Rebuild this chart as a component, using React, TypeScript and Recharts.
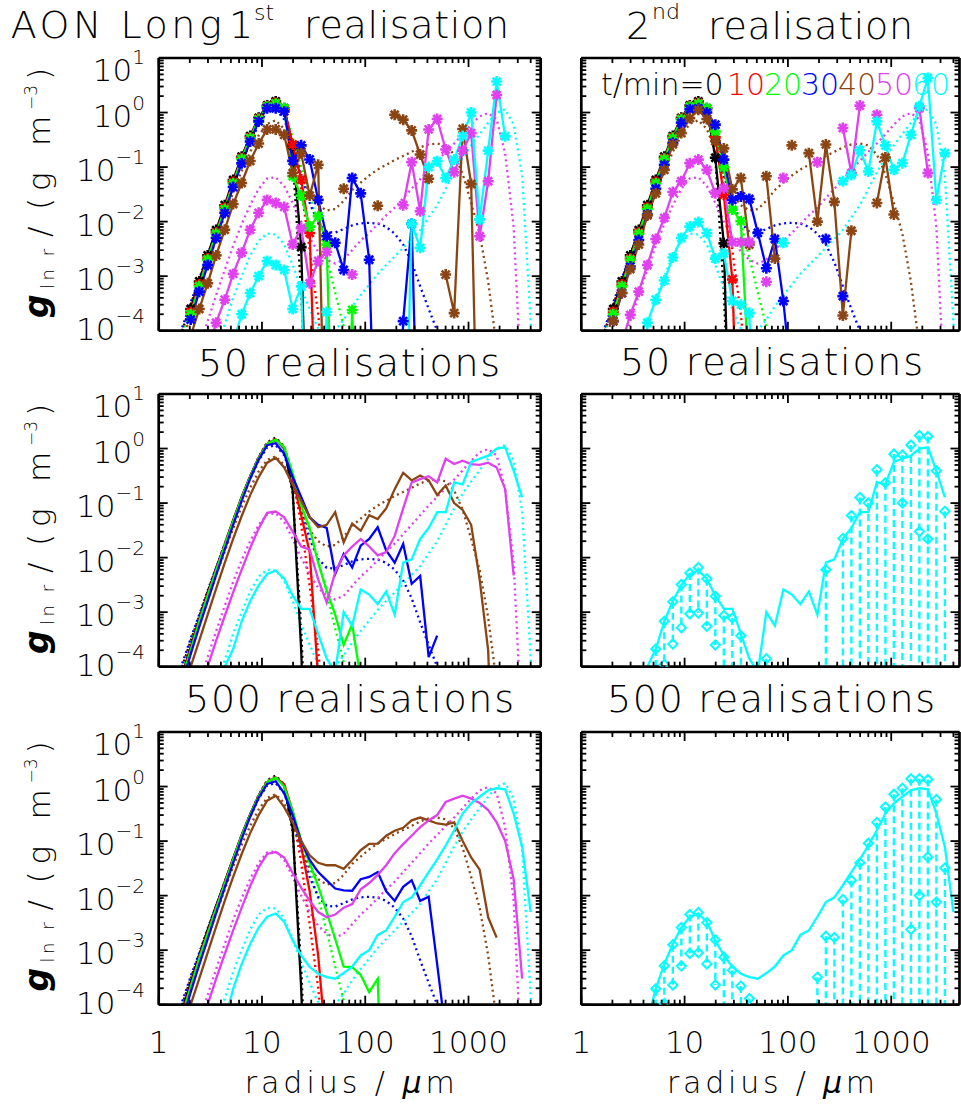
import React from 'react';
import { LineChart, Line, XAxis, YAxis, ReferenceLine } from 'recharts';

// ---------- radius grid (µm), bins n = -5 … 37 ----------
const RADIUS = [1.69, 2.04, 2.47, 2.98, 3.60, 4.36, 5.26, 6.36, 7.69, 9.29, 11.23, 13.58, 16.41, 19.83, 23.97, 28.97, 35.02, 42.33, 51.17, 61.84, 74.74, 90.33, 109.2, 132.0, 159.5, 192.8, 233.0, 281.6, 340.4, 411.4, 497.3, 601.0, 726.4, 878.0, 1061, 1282, 1550, 1873, 2264, 2736, 3307, 3997, 4831];
const N0 = -5;
const ZERO = 1e-8; // below the axis

const TIMES = ['10', '20', '30', '40', '50', '60'];
const COLORS = ['#000000', '#ff0000', '#00ff00', '#0000ff', '#8b4513', '#e040f0', '#00ffff'];

const XTICKS = [1, 2, 3, 4, 5, 6, 7, 8, 9, 10, 20, 30, 40, 50, 60, 70, 80, 90, 100, 200, 300, 400, 500, 600, 700, 800, 900, 1000, 2000, 3000, 4000];
const YTICKS = [1e-4, 2e-4, 3e-4, 4e-4, 5e-4, 6e-4, 7e-4, 8e-4, 9e-4, 1e-3, 2e-3, 3e-3, 4e-3, 5e-3, 6e-3, 7e-3, 8e-3, 9e-3, 1e-2, 2e-2, 3e-2, 4e-2, 5e-2, 6e-2, 7e-2, 8e-2, 9e-2, 0.1, 0.2, 0.3, 0.4, 0.5, 0.6, 0.7, 0.8, 0.9, 1, 2, 3, 4, 5, 6, 7, 8, 9, 10];

type Series = { from: number; g: (number | null)[] };

// ---------- reference (dotted) curves ----------
const REF_BLACK: Series = { from: -5, g: [1.0e-4, 3.0e-4, 8.5e-4, 2.4e-3, 6.5e-3, 0.018, 0.048, 0.125, 0.31, 0.70, 1.3, 1.6, 1.1, 0.15, 5e-4, 1e-7] };
const REF_RED: Series = { from: -5, g: [0.95e-4, 2.9e-4, 8.2e-4, 2.3e-3, 6.3e-3, 0.0175, 0.047, 0.122, 0.30, 0.68, 1.27, 1.55, 1.05, 0.3, 0.04, 3e-3, 2e-4, 5e-6] };
const REF_GREEN: Series = { from: -5, g: [0.92e-4, 2.8e-4, 8e-4, 2.25e-3, 6.1e-3, 0.017, 0.046, 0.12, 0.29, 0.66, 1.24, 1.5, 1.1, 0.35, 0.1, 0.03, 9e-3, 2.2e-3, 5e-4, 1.2e-4, 2e-5] };
const REF_BLUE: Series = { from: -5, g: [1.15e-4, 3.3e-4, 9e-4, 2.5e-3, 6.6e-3, 0.018, 0.047, 0.12, 0.28, 0.6, 1.05, 1.15, 0.75, 0.27, 0.07, 0.022, 9.5e-3, 6.5e-3, 6.3e-3, 7.3e-3, 8.5e-3, 9.3e-3, 9.5e-3, 9.2e-3, 8e-3, 6e-3, 3.8e-3, 1.8e-3, 6.5e-4, 2.5e-4, 1e-4, 3e-5] };
const REF_BROWN: Series = { from: -5, g: [6e-5, 2e-4, 6e-4, 1.7e-3, 4.7e-3, 0.013, 0.034, 0.085, 0.19, 0.38, 0.62, 0.72, 0.5, 0.2, 0.07, 0.032, 0.02, 0.016, 0.017, 0.024, 0.038, 0.052, 0.07, 0.09, 0.11, 0.135, 0.16, 0.19, 0.23, 0.26, 0.27, 0.25, 0.17, 0.075, 0.022, 6e-3, 8e-4, 5e-5] };
const REF_MAGENTA: Series = { from: -3, g: [5e-5, 1.5e-4, 4.5e-4, 1.3e-3, 3.6e-3, 9e-3, 0.02, 0.04, 0.062, 0.065, 0.045, 0.022, 0.01, 5e-3, 2.8e-3, 2e-3, 1.7e-3, 2e-3, 3e-3, 4.5e-3, 6.2e-3, 9e-3, 0.013, 0.018, 0.027, 0.04, 0.06, 0.09, 0.13, 0.19, 0.27, 0.4, 0.6, 0.85, 0.98, 0.75, 0.18, 8e-3, 5e-6] };
const REF_CYAN: Series = { from: -1, g: [5e-5, 1.3e-4, 4e-4, 1e-3, 2.4e-3, 4.5e-3, 6e-3, 5.8e-3, 3.8e-3, 1.6e-3, 6e-4, 2.5e-4, 1.1e-4, 8e-5, 1e-4, 1.6e-4, 2.8e-4, 4.5e-4, 7e-4, 1.1e-3, 1.6e-3, 2.3e-3, 3.3e-3, 4.8e-3, 7e-3, 0.012, 0.02, 0.04, 0.08, 0.15, 0.25, 0.4, 0.65, 1.0, 1.15, 0.6, 0.07, 1.5e-4, 1e-7] };
const REFS = [REF_BLACK, REF_RED, REF_GREEN, REF_BLUE, REF_BROWN, REF_MAGENTA, REF_CYAN];

// ---------- 1st realisation ----------
const P1_BLACK: Series = { from: -4, g: [2.5e-4, 8e-4, 2.4e-3, 7e-3, 0.02, 0.058, 0.155, 0.37, 0.8, 1.35, 1.6, 1.2, 0.25, 3.4e-3, ZERO] };
const P1_RED: Series = { from: -4, g: [2.2e-4, 7e-4, 2.1e-3, 6.3e-3, 0.018, 0.053, 0.145, 0.35, 0.77, 1.3, 1.5, 1.15, 0.26, 0.059, 6.2e-3, 1e-7] };
const P1_GREEN: Series = { from: -4, g: [2e-4, 6.5e-4, 2e-3, 6e-3, 0.017, 0.05, 0.14, 0.34, 0.75, 1.28, 1.45, 1.2, 0.068, 0.03, 8.1e-3, 0.0126, 3.8e-3, ZERO, ZERO, 2.4e-4, ZERO] };
const P1_BLUE: Series = { from: -4, g: [1.6e-4, 5.2e-4, 1.6e-3, 5e-3, 0.0145, 0.043, 0.117, 0.295, 0.69, 1.2, 1.2, 1.05, 0.13, 0.25, 0.138, 0.025, 5.4e-3, 4.1e-3, 1.3e-3, 0.063, 0.033, 2e-3, ZERO, ZERO, ZERO, 1.5e-4, 9.1e-3, ZERO] };
const P1_BROWN: Series = { from: -4, g: [8e-5, 2.5e-4, 7.4e-4, 2.4e-3, 7.1e-3, 0.021, 0.051, 0.129, 0.27, 0.49, 0.49, 0.39, 0.078, 0.18, 0.03, 0.11, ZERO, null, 0.04, null, null, null, 0.0195, null, 0.91, 0.74, 0.47, 0.17, 0.061, null, 1.07e-3, 2.1e-4, 0.5, 0.049, ZERO] };
const P1_MAGENTA: Series = { from: -2, g: [4e-5, 1.4e-4, 3.7e-4, 1.1e-3, 2.7e-3, 7.1e-3, 0.0145, 0.025, 0.022, 0.0186, 3.8e-3, 7.6e-3, 7.4e-4, 1.9e-3, 2.8e-3, null, null, 1.07e-3, null, null, null, null, null, 0.02, 0.123, 0.0155, 0.49, 0.76, 0.21, 0.08, 0.2, 0.42, 5.4e-3, 0.055, 2.1] };
const P1_CYAN: Series = { from: 1, g: [6e-5, 2.0e-4, 4.9e-4, 1.0e-3, 1.9e-3, 1.6e-3, 1.3e-3, 2.5e-4, 6.5e-4, ZERO, ZERO, 2.2e-4, ZERO, null, null, null, null, null, null, null, ZERO, 9.1e-3, 3.3e-3, 0.10, 0.128, 0.063, 0.137, 0.37, 1.0, 0.011, 0.2, 3.7, 0.366] };
const P1 = [P1_BLACK, P1_RED, P1_GREEN, P1_BLUE, P1_BROWN, P1_MAGENTA, P1_CYAN];

// ---------- 2nd realisation ----------
const P2_BLACK: Series = { from: -4, g: [2.5e-4, 8e-4, 2.4e-3, 7e-3, 0.02, 0.058, 0.155, 0.37, 0.8, 1.35, 1.6, 1.2, 0.148, 4.0e-3, ZERO] };
const P2_RED: Series = { from: -4, g: [2.2e-4, 7e-4, 2.1e-3, 6.3e-3, 0.018, 0.053, 0.145, 0.35, 0.77, 1.3, 1.5, 1.15, 0.35, 0.031, 8.7e-4, ZERO] };
const P2_GREEN: Series = { from: -4, g: [2e-4, 6.5e-4, 2e-3, 6e-3, 0.017, 0.05, 0.14, 0.34, 0.75, 1.28, 1.45, 1.2, 0.45, 0.1, 0.0166, 0.0102, 1e-5] };
const P2_BLUE: Series = { from: -4, g: [1.5e-4, 4.9e-4, 1.5e-3, 4.6e-3, 0.0135, 0.04, 0.11, 0.28, 0.65, 1.15, 1.2, 1.0, 0.6, 0.137, 0.025, 0.029, 0.026, 6.2e-3, 1.4e-3, 4.8e-3, 3.5e-4, 1e-5, null, null, null, 4.8e-3, null, 4.3e-4] };
const P2_BROWN: Series = { from: -4, g: [1.5e-4, 4.9e-4, 1.35e-3, 3.8e-3, 0.013, 0.033, 0.089, 0.26, 0.42, 0.79, 1.12, 0.76, 0.30, 0.22, 0.039, 0.063, 3.8e-3, null, 0.068, 2.1e-3, null, 0.25, null, 0.18, 0.010, 0.26, 0.023, 1.9e-4, 6.8e-3, null, null, 0.022, 0.15, 0.0135] };
const P2_MAGENTA: Series = { from: -3, g: [6e-5, 1.95e-4, 5.2e-4, 1.6e-3, 4.8e-3, 0.0117, 0.035, 0.055, 0.118, 0.137, 0.089, 0.033, 0.041, 4.2e-3, 4.2e-3, 4.2e-3, null, 7.9e-4, null, 0.063, null, null, null, 0.123, null, null, 0.52, 0.078, 1.34, null, 0.91, null, null, null, null, 1.21, 0.078] };
const P2_CYAN: Series = { from: -1, g: [1e-6, 1.4e-4, 3.7e-4, 8.3e-4, 2.2e-3, 5e-3, 8.1e-3, 9.8e-3, 6.2e-3, 2.1e-3, 2.6e-3, 3.5e-4, 3e-4, 2.1e-4, ZERO, null, null, 4.1e-3, null, null, null, null, null, null, 0.055, 0.072, 0.204, 0.083, 0.69, 0.25, 0.089, 0.118, 0.39, 1.3, 4.3, 0.025, 0.18] };
const P2 = [P2_BLACK, P2_RED, P2_GREEN, P2_BLUE, P2_BROWN, P2_MAGENTA, P2_CYAN];

// ---------- 50 realisations (mean) ----------
const P3_BLACK: Series = { from: -5, g: [7e-5, 2.3e-4, 7.5e-4, 2.2e-3, 6.2e-3, 0.017, 0.048, 0.13, 0.31, 0.68, 1.2, 1.45, 1.0, 0.17, 2e-4, ZERO] };
const P3_RED: Series = { from: -5, g: [6.5e-5, 2.1e-4, 7e-4, 2.1e-3, 6e-3, 0.017, 0.047, 0.127, 0.3, 0.67, 1.2, 1.45, 1.05, 0.3, 0.06, 0.0126, 6e-5, ZERO] };
const P3_GREEN: Series = { from: -5, g: [6e-5, 2e-4, 6.8e-4, 2e-3, 5.8e-3, 0.0165, 0.046, 0.125, 0.3, 0.66, 1.2, 1.45, 1.05, 0.35, 0.09, 0.035, 8e-3, 2.5e-3, 9e-4, 2.5e-4, 6e-4, 6e-5, ZERO] };
const P3_BLUE: Series = { from: -5, g: [5e-5, 1.7e-4, 5.4e-4, 1.6e-3, 4.8e-3, 0.014, 0.04, 0.11, 0.28, 0.62, 1.15, 1.25, 0.8, 0.3, 0.13, 0.055, 0.04, 0.035, 5e-3, 0.0117, 6.6e-3, 0.0166, 0.022, 0.036, 0.0135, 8.1e-3, 0.0178, 3.3e-3, 4.6e-3, 1.5e-4, 3.7e-4] };
const P3_BROWN: Series = { from: -5, g: [3e-5, 1e-4, 3e-4, 9e-4, 2.7e-3, 8e-3, 0.022, 0.058, 0.14, 0.3, 0.55, 0.68, 0.45, 0.22, 0.11, 0.055, 0.036, 0.04, 0.068, 0.019, 0.042, 0.031, 0.06, 0.051, 0.08, 0.18, 0.36, 0.26, 0.32, 0.26, 0.14, 0.21, 0.10, 0.075, 0.04, 4e-3, 2e-4, ZERO] };
const P3_MAGENTA: Series = { from: -3, g: [3e-5, 1e-4, 3e-4, 8.5e-4, 2.3e-3, 6e-3, 0.015, 0.034, 0.066, 0.07, 0.055, 0.03, 0.016, 0.014, 4e-3, 1.5e-3, 5.4e-3, 0.011, 0.016, 0.022, 0.016, 0.011, 0.0126, 0.025, 0.08, 0.24, 0.275, 0.31, 0.24, 0.65, 0.52, 0.6, 0.52, 0.5, 0.55, 0.45, 0.18, 4.7e-3] };
const P3_CYAN: Series = { from: 0, g: [1e-4, 2.1e-4, 6.8e-4, 1.6e-3, 3.1e-3, 5e-3, 5.8e-3, 4.1e-3, 2e-3, 1.15e-3, 1.15e-3, 4e-4, 1.4e-4, 8e-5, 1.0e-3, 5.6e-4, 2.6e-3, 2.1e-3, 1.4e-3, 2.4e-3, 9e-4, 8.1e-3, 9.3e-3, 0.022, 0.035, 0.068, 0.068, 0.24, 0.22, 0.57, 0.65, 0.74, 1.0, 1.05, 0.39, 0.127] };
const P3 = [P3_BLACK, P3_RED, P3_GREEN, P3_BLUE, P3_BROWN, P3_MAGENTA, P3_CYAN];

// 50 realisations, t = 60 min spread (upper / lower markers, dashed range)
const P4_UP_N = [1, 2, 3, 4, 5, 6, 7, 8, 9, 10, 11, 14, 21, 23, 24, 25, 26, 27, 28, 29, 30, 31, 32, 33, 34, 35];
const P4_UP_G = [2.1e-4, 6.8e-4, 1.55e-3, 3.2e-3, 5.2e-3, 6.6e-3, 4.1e-3, 1.95e-3, 8.7e-4, 7.8e-4, 3.7e-4, 1.4e-4, 6e-3, 0.0224, 0.059, 0.127, 0.10, 0.41, 0.235, 0.79, 0.76, 1.16, 1.73, 1.66, 0.39, 0.071];
const P4_RANGE_LOW = [ZERO, 1.1e-4, 2.6e-4, 5.2e-4, 9.3e-4, 9.6e-4, 5.5e-4, 2.5e-4, ZERO, ZERO, ZERO, ZERO, ZERO, ZERO, ZERO, ZERO, ZERO, ZERO, ZERO, ZERO, ZERO, ZERO, ZERO, ZERO, ZERO, ZERO];
const P4_LO_N = [2, 3, 4, 5, 6, 7, 8, 30, 32, 33];
const P4_LO_G = [1.1e-4, 2.6e-4, 5.2e-4, 9.3e-4, 9.6e-4, 5.5e-4, 2.5e-4, 0.10, 0.030, 0.022];

// ---------- 500 realisations (mean) ----------
const P5_BLACK: Series = { from: -5, g: [8e-5, 2.5e-4, 7.8e-4, 2.3e-3, 6.4e-3, 0.0175, 0.048, 0.13, 0.31, 0.68, 1.2, 1.45, 1.05, 0.17, 2e-4, ZERO] };
const P5_RED: Series = { from: -5, g: [7e-5, 2.2e-4, 7.2e-4, 2.1e-3, 6e-3, 0.017, 0.047, 0.127, 0.3, 0.67, 1.2, 1.45, 1.1, 0.35, 0.08, 0.012, 8e-4, 1.3e-5] };
const P5_GREEN: Series = { from: -5, g: [6.5e-5, 2.1e-4, 7e-4, 2e-3, 5.8e-3, 0.0165, 0.046, 0.125, 0.3, 0.66, 1.2, 1.45, 1.0, 0.35, 0.1, 0.04, 0.015, 5e-3, 1.6e-3, 5e-4, 4.9e-4, 3.5e-4, 1.7e-4, 3e-4, ZERO] };
const P5_BLUE: Series = { from: -5, g: [5e-5, 1.7e-4, 5.4e-4, 1.6e-3, 4.8e-3, 0.014, 0.04, 0.11, 0.28, 0.62, 1.12, 1.25, 0.75, 0.3, 0.1, 0.045, 0.027, 0.019, 0.0135, 0.0125, 0.0123, 0.02, 0.022, 0.027, 0.012, 8e-3, 0.0145, 0.019, 8e-3, 9.5e-3, 5.5e-4, 3e-5] };
const P5_BROWN: Series = { from: -5, g: [3e-5, 1e-4, 3e-4, 9e-4, 2.7e-3, 8e-3, 0.022, 0.058, 0.14, 0.3, 0.55, 0.68, 0.42, 0.22, 0.1, 0.055, 0.04, 0.036, 0.036, 0.031, 0.045, 0.068, 0.089, 0.09, 0.125, 0.155, 0.175, 0.24, 0.27, 0.24, 0.21, 0.2, 0.22, 0.1, 0.05, 0.03, 4e-3, 1.7e-3] };
const P5_MAGENTA: Series = { from: -3, g: [3e-5, 1e-4, 3e-4, 8.5e-4, 2.3e-3, 6e-3, 0.015, 0.033, 0.058, 0.063, 0.05, 0.026, 0.014, 8e-3, 5e-3, 4e-3, 4.5e-3, 6e-3, 7e-3, 0.013, 0.017, 0.024, 0.036, 0.06, 0.088, 0.125, 0.18, 0.24, 0.3, 0.52, 0.6, 0.68, 0.6, 0.5, 0.37, 0.22, 0.1, 0.02, 3e-4] };
const P5_CYAN: Series = { from: 0, g: [5e-5, 1.95e-4, 5.6e-4, 1.3e-3, 2.6e-3, 4.1e-3, 4.7e-3, 3.3e-3, 1.5e-3, 8e-4, 4.9e-4, 3.7e-4, 3.2e-4, 3e-4, 3.8e-4, 5e-4, 8e-4, 1e-3, 1.9e-3, 2.3e-3, 4.1e-3, 7.6e-3, 9.3e-3, 0.0155, 0.027, 0.046, 0.083, 0.158, 0.32, 0.49, 0.65, 0.85, 0.93, 0.89, 0.32, 0.078, 5e-3] };
const P5 = [P5_BLACK, P5_RED, P5_GREEN, P5_BLUE, P5_BROWN, P5_MAGENTA, P5_CYAN];

const P6_UP_N = [1, 2, 3, 4, 5, 6, 7, 8, 9, 10, 11, 12, 20, 21, 22, 23, 24, 25, 26, 27, 28, 29, 30, 31, 32, 33, 34, 35];
const P6_UP_G = [1.95e-4, 5.2e-4, 1.26e-3, 2.6e-3, 4.5e-3, 4.9e-3, 3.2e-3, 1.55e-3, 7.4e-4, 4.3e-4, 2.2e-4, 1.3e-4, 3.2e-4, 1.8e-3, 1.7e-3, 8.5e-3, 0.019, 0.040, 0.091, 0.22, 0.42, 0.72, 0.93, 1.39, 1.39, 1.34, 0.58, 0.032];
const P6_RANGE_LOW = [ZERO, 1.05e-4, 2.3e-4, 5.1e-4, 8.7e-4, 9e-4, 5.6e-4, 2.3e-4, ZERO, ZERO, ZERO, ZERO, ZERO, ZERO, ZERO, ZERO, ZERO, ZERO, ZERO, ZERO, ZERO, ZERO, ZERO, ZERO, ZERO, ZERO, ZERO, ZERO];
const P6_LO_N = [2, 3, 4, 5, 6, 7, 8, 31, 32, 33, 34];
const P6_LO_G = [1.05e-4, 2.3e-4, 5.1e-4, 8.7e-4, 9e-4, 5.6e-4, 2.3e-4, 2.4e-3, 0.01, 0.051, 7.6e-3];

// ---------- layout ----------
const FONT = "'DejaVu Sans', 'Liberation Sans', sans-serif";
const WEIGHT = 300;
const H = 272.7;
const ROW_TOP = [58.3, 394.3, 731.7];
const COLS = [
  { left: 158.7, width: 382, xMax: 5000, svgLeft: 0, mr: 19.3 },
  { left: 581.3, width: 378.2, xMax: 4580, svgLeft: 560, mr: 1.5 },
];
const CYAN = COLORS[6];
const AXIS_PX = 1; // axis box size (axes with zero size are not drawn)

const seriesData = (s: Series) => s.g.map((v, i) => ({ r: RADIUS[s.from - N0 + i], g: v }));
const pointData = (ns: number[], gs: number[]) => ns.map((n, i) => ({ r: RADIUS[n - N0], g: gs[i] }));
const rangeData = (ns: number[], hi: number[], lo: number[]) => {
  const out: { r: number; g: number | null }[] = [];
  ns.forEach((n, i) => {
    const r = RADIUS[n - N0];
    out.push({ r, g: hi[i] });
    out.push({ r, g: lo[i] });
    out.push({ r, g: null });
  });
  return out;
};

const isMajor = (v: number) => Math.abs(Math.log10(v) - Math.round(Math.log10(v))) < 1e-6;

const star = (color: string) => (p: any) => {
  const { cx, cy, index, payload } = p;
  if (!payload || payload.g == null || cx == null || cy == null || !isFinite(cx) || !isFinite(cy)) return <g key={`st${index}`} />;
  const s = 5.5, d = 4;
  return (
    <g key={`st${index}`} stroke={color} strokeWidth={2.6}>
      <line x1={cx - s} y1={cy} x2={cx + s} y2={cy} />
      <line x1={cx} y1={cy - s} x2={cx} y2={cy + s} />
      <line x1={cx - d} y1={cy - d} x2={cx + d} y2={cy + d} />
      <line x1={cx - d} y1={cy + d} x2={cx + d} y2={cy - d} />
    </g>
  );
};

const diamond = (p: any) => {
  const { cx, cy, index, payload } = p;
  if (!payload || payload.g == null || cx == null || cy == null || !isFinite(cx) || !isFinite(cy)) return <g key={`di${index}`} />;
  const s = 4.6;
  return <path key={`di${index}`} d={`M${cx},${cy - s}L${cx + s},${cy}L${cx},${cy + s}L${cx - s},${cy}Z`} fill="none" stroke={CYAN} strokeWidth={2} />;
};

const xTick = (plotH: number, labels: boolean) => (p: any) => {
  const { x, y, payload, index } = p;
  const v = payload.value;
  const major = isMajor(v);
  const len = major ? 9 : 5;
  return (
    <g key={`xt${index}`}>
      <line x1={x} y1={y} x2={x} y2={y - len} stroke="#000" strokeWidth={1.8} />
      <line x1={x} y1={y - plotH} x2={x} y2={y - plotH + len} stroke="#000" strokeWidth={1.8} />
      {labels && major ? (
        <text x={x} y={y + 48.6} textAnchor="middle" fontFamily={FONT} fontWeight={WEIGHT} fontSize={31} fill="#000">{String(v)}</text>
      ) : null}
    </g>
  );
};

const yTick = (plotW: number, labels: boolean) => (p: any) => {
  const { x, y, payload, index } = p;
  const v = payload.value;
  const major = isMajor(v);
  const len = major ? 9 : 5;
  const e = Math.round(Math.log10(v));
  const dy = e === 1 ? 23.4 : e === -4 ? 9 : 14;
  return (
    <g key={`yt${index}`}>
      <line x1={x} y1={y} x2={x + len} y2={y} stroke="#000" strokeWidth={1.8} />
      <line x1={x + plotW} y1={y} x2={x + plotW - len} y2={y} stroke="#000" strokeWidth={1.8} />
      {labels && major ? (
        <text x={x - 13.7} y={y + dy} textAnchor="end" fontFamily={FONT} fontWeight={WEIGHT} fontSize={31} fill="#000">
          <tspan>10</tspan>
          <tspan fontSize={20} dy={-17}>{e < 0 ? `\u2212${-e}` : String(e)}</tspan>
        </text>
      ) : null}
    </g>
  );
};

const dottedLine = (s: Series, color: string, key: string) => (
  <Line key={key} data={seriesData(s)} dataKey="g" stroke={color} strokeWidth={2.3} strokeDasharray="2 3.5" dot={false} activeDot={false} isAnimationActive={false} connectNulls={false} />
);
const solidLine = (s: Series, color: string, key: string, stars: boolean) => (
  <Line key={key} data={seriesData(s)} dataKey="g" stroke={color} strokeWidth={2.3} dot={stars ? star(color) : false} activeDot={false} isAnimationActive={false} connectNulls={false} />
);

function Panel({ row, col, xLabels, children }: { row: number; col: number; xLabels: boolean; children: React.ReactNode }) {
  const c = COLS[col];
  const top = ROW_TOP[row];
  const mt = 12;
  const mb = xLabels ? 70 : 30;
  const ml = c.left - c.svgLeft;
  const width = ml + c.width + c.mr;
  const height = mt + H + mb;
  return (
    <div style={{ position: 'absolute', left: c.svgLeft, top: top - mt, width, height }}>
      <LineChart width={width} height={height} margin={{ top: mt, right: c.mr, bottom: mb - AXIS_PX, left: ml - AXIS_PX }}>
        <XAxis dataKey="r" type="number" scale="log" domain={[1, c.xMax]} allowDataOverflow ticks={XTICKS} interval={0}
          tickSize={0} tickMargin={0} height={AXIS_PX} tickLine={false} axisLine={{ stroke: '#000', strokeWidth: 2.7 }} tick={xTick(H, xLabels)} />
        <YAxis type="number" scale="log" domain={[1e-4, 10]} allowDataOverflow ticks={YTICKS} interval={0}
          tickSize={0} tickMargin={0} width={AXIS_PX} tickLine={false} axisLine={{ stroke: '#000', strokeWidth: 2.7 }} tick={yTick(c.width, col === 0)} />
        <ReferenceLine y={10} stroke="#000" strokeWidth={2.7} ifOverflow="visible" />
        <ReferenceLine x={c.xMax} stroke="#000" strokeWidth={2.7} ifOverflow="visible" />
        {children}
      </LineChart>
    </div>
  );
}

const refLines = (tag: string) => REFS.map((s, i) => dottedLine(s, COLORS[i], `${tag}ref${i}`));
const meanLines = (set: Series[], tag: string, stars: boolean) => set.map((s, i) => solidLine(s, COLORS[i], `${tag}m${i}`, stars));
const spreadLines = (mean: Series, upN: number[], upG: number[], low: number[], loN: number[], loG: number[], tag: string) => [
  <Line key={`${tag}bars`} data={rangeData(upN, upG, low)} dataKey="g" stroke={CYAN} strokeWidth={2.4} strokeDasharray="7 4" dot={false} activeDot={false} isAnimationActive={false} connectNulls={false} />,
  solidLine(mean, CYAN, `${tag}mean`, false),
  <Line key={`${tag}up`} data={pointData(upN, upG)} dataKey="g" stroke="none" dot={diamond} activeDot={false} isAnimationActive={false} />,
  <Line key={`${tag}lo`} data={pointData(loN, loG)} dataKey="g" stroke="none" dot={diamond} activeDot={false} isAnimationActive={false} />,
];

const T = (props: any) => <text fontFamily={FONT} fontWeight={WEIGHT} fill="#000" {...props} />;

function YTitle({ bottom }: { bottom: number }) {
  return (
    <text transform={`translate(50 ${bottom}) rotate(-90)`} fontFamily={FONT} fontWeight={WEIGHT} fill="#000" fontSize={31}>
      <tspan x={0} y={-2} fontSize={33} fontStyle="italic" fontWeight="bold">g</tspan>
      <tspan x={29} y={4} fontSize={18} letterSpacing={3.5}>ln r</tspan>
      <tspan x={81} y={0}>/</tspan>
      <tspan x={108} y={0}>(</tspan>
      <tspan x={127} y={0}>g</tspan>
      <tspan x={172} y={0}>m</tspan>
      <tspan x={208} y={-13} fontSize={17}>{'\u22123'}</tspan>
      <tspan x={238} y={0}>)</tspan>
    </text>
  );
}

function Overlay() {
  const legendX = [727, 764, 801, 838, 875, 912];
  return (
    <svg width={961} height={1107} style={{ position: 'absolute', left: 0, top: 0, pointerEvents: 'none' }}>
      {/* titles */}
      <T x={10.7} y={38.3} fontSize={38} textLength={211} lengthAdjust="spacing">AON Long</T>
      <T x={229} y={38.3} fontSize={38}>1</T>
      <T x={254} y={20} fontSize={22}>st</T>
      <T x={304} y={38.3} fontSize={38} textLength={205} lengthAdjust="spacing">realisation</T>
      <T x={626} y={39} fontSize={38}>2</T>
      <T x={652} y={19} fontSize={22}>nd</T>
      <T x={708} y={39} fontSize={38} textLength={205} lengthAdjust="spacing">realisation</T>
      <T x={198} y={376} fontSize={38} textLength={302} lengthAdjust="spacing">50 realisations</T>
      <T x={620} y={375} fontSize={38} textLength={303} lengthAdjust="spacing">50 realisations</T>
      <T x={185} y={711.7} fontSize={38} textLength={329} lengthAdjust="spacing">500 realisations</T>
      <T x={607} y={711.7} fontSize={38} textLength={328} lengthAdjust="spacing">500 realisations</T>
      {/* y titles */}
      {ROW_TOP.map((t, i) => <YTitle key={`yt${i}`} bottom={t + 259.7} />)}
      {/* x titles */}
      <T x={349.7} y={1093} fontSize={30} textAnchor="middle" textLength={210} lengthAdjust="spacing">radius / <tspan fontStyle="italic">μ</tspan>m</T>
      <T x={771} y={1093} fontSize={30} textAnchor="middle" textLength={208} lengthAdjust="spacing">radius / <tspan fontStyle="italic">μ</tspan>m</T>
      {/* legend */}
      <T x={601} y={95} fontSize={30}>t/min=0</T>
      {TIMES.map((t, i) => (
        <T key={`lg${i}`} x={legendX[i]} y={95} fontSize={30} fill={COLORS[i + 1]}>{t}</T>
      ))}
    </svg>
  );
}

export default function App() {
  return (
    <div style={{ position: 'absolute', left: 0, top: 0, width: 961, height: 1107, background: '#fff', overflow: 'hidden' }}>
      <Panel row={0} col={0} xLabels={false}>{[...refLines('a'), ...meanLines(P1, 'a', true)]}</Panel>
      <Panel row={0} col={1} xLabels={false}>{[...refLines('b'), ...meanLines(P2, 'b', true)]}</Panel>
      <Panel row={1} col={0} xLabels={false}>{[...refLines('c'), ...meanLines(P3, 'c', false)]}</Panel>
      <Panel row={1} col={1} xLabels={false}>{spreadLines(P3_CYAN, P4_UP_N, P4_UP_G, P4_RANGE_LOW, P4_LO_N, P4_LO_G, 'd')}</Panel>
      <Panel row={2} col={0} xLabels={true}>{[...refLines('e'), ...meanLines(P5, 'e', false)]}</Panel>
      <Panel row={2} col={1} xLabels={true}>{spreadLines(P5_CYAN, P6_UP_N, P6_UP_G, P6_RANGE_LOW, P6_LO_N, P6_LO_G, 'f')}</Panel>
      <Overlay />
    </div>
  );
}
